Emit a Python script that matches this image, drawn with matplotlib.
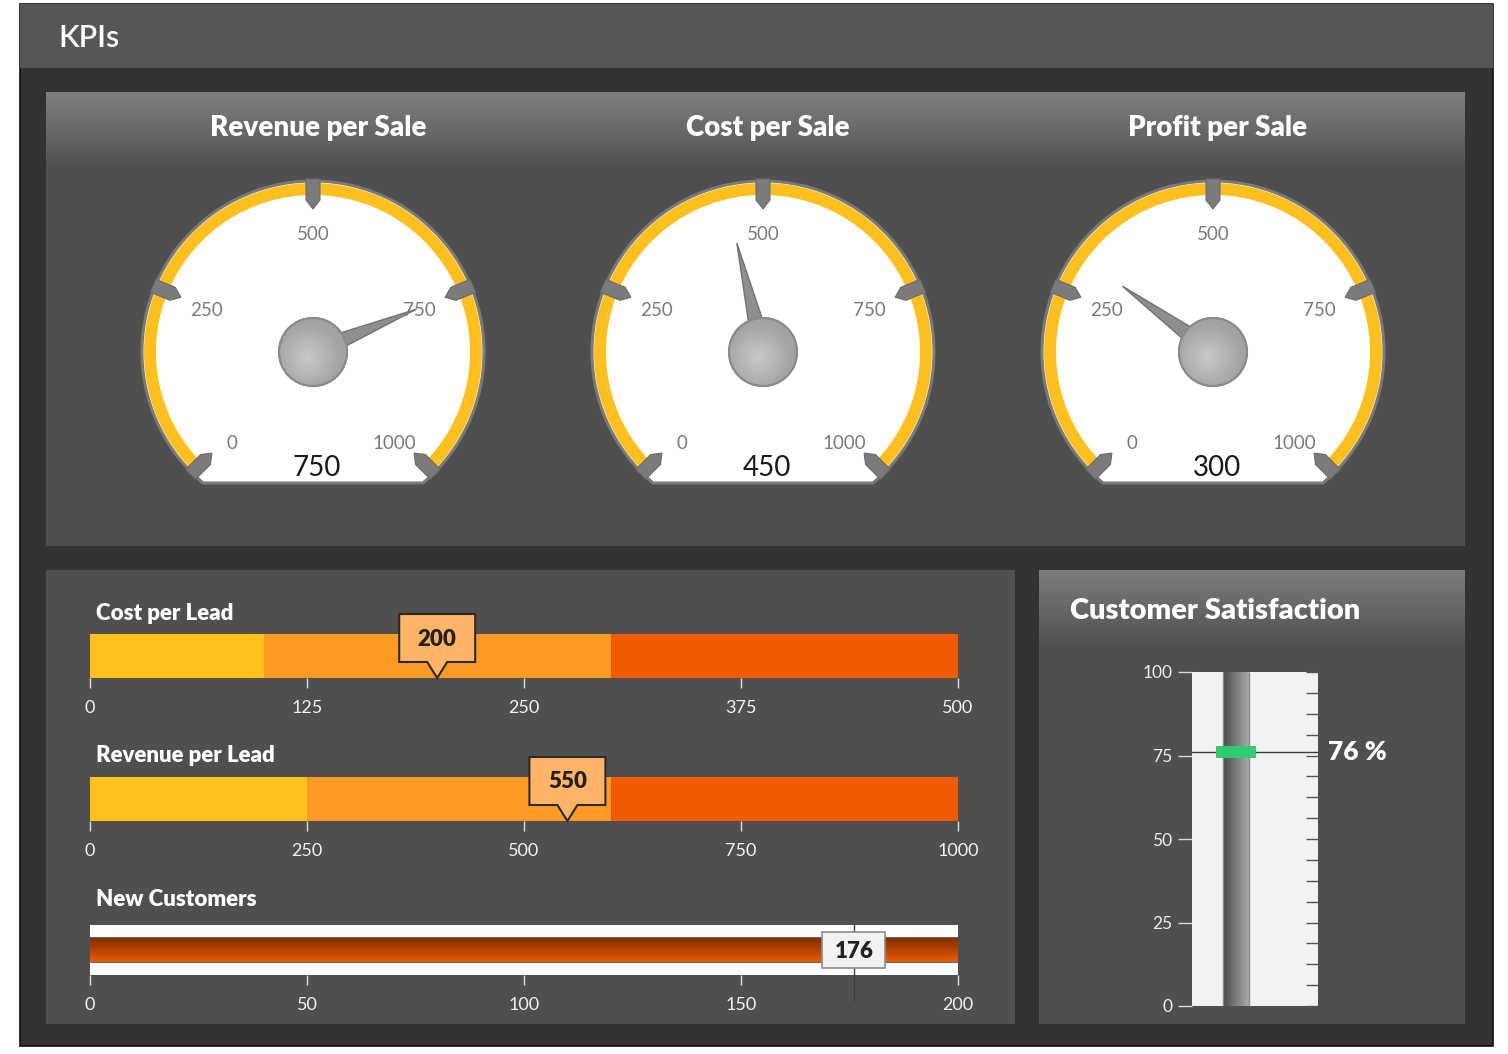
import numpy as np
import matplotlib.pyplot as plt
import matplotlib.transforms as mtransforms
from matplotlib.patches import Polygon, Rectangle, Circle
from matplotlib.colors import to_rgb

# ---- data -------------------------------------------------------------
gauge_titles = ["Revenue per Sale", "Cost per Sale", "Profit per Sale"]
gauge_values = [750, 450, 300]
gauge_ticks = [0, 250, 500, 750, 1000]
gauge_max = 1000

bullet_titles = ["Cost per Lead", "Revenue per Lead"]
bullet_values = [200, 550]
bullet_max = [500, 1000]
bullet_bands = [[100, 300, 500], [250, 600, 1000]]
bullet_ticks = [[0, 125, 250, 375, 500], [0, 250, 500, 750, 1000]]
band_colors = ["#FFC21C", "#FF9A24", "#F05A00"]

nc_title = "New Customers"
nc_value = 176
nc_max = 200
nc_ticks = [0, 50, 100, 150, 200]

sat_title = "Customer Satisfaction"
sat_value = 76
sat_ticks = [0, 25, 50, 75, 100]
sat_minor = np.arange(0, 100.1, 6.25)

W, H = 1508, 1054
plt.rcParams["font.family"] = ["Lato", "DejaVu Sans"]
TITLE_W = "heavy"


def vgrad(c_top, c_bot, n=64):
    a, b = np.array(to_rgb(c_top)), np.array(to_rgb(c_bot))
    t = np.linspace(0, 1, n)[:, None, None]
    return a * (1 - t) + b * t


def hgrad(c_left, c_right, n=64):
    return vgrad(c_left, c_right, n).transpose(1, 0, 2)


fig = plt.figure(figsize=(W / 100, H / 100), dpi=100, facecolor="white")
bg = fig.add_axes([0, 0, 1, 1])
bg.axis("off")


def px_axes(x0, y0, x1, y1):
    return fig.add_axes([x0 / W, 1 - y1 / H, (x1 - x0) / W, (y1 - y0) / H])


def rect(x0, y0, x1, y1, **kw):
    bg.add_patch(Rectangle((x0, y0), x1 - x0, y1 - y0, **kw))


# ---- frame and panels -------------------------------------------------
rect(20, 4, 1493, 1046, fc="#333333", ec="#111111", lw=1.2)
rect(20, 4, 1493, 68, fc="#565656", ec="none")
bg.text(58, 38, "KPIs", color="white", fontsize=22, fontweight="semibold",
        va="center", ha="left")

rect(46, 92, 1465, 546, fc="#4f4f4f", ec="none")
bg.imshow(vgrad("#808080", "#4f4f4f"), extent=(46, 1465, 170, 92),
          aspect="auto", interpolation="bilinear", zorder=1.5)
rect(46, 570, 1015, 1024, fc="#4f4f4f", ec="none")
rect(1039, 570, 1465, 1024, fc="#4f4f4f", ec="none")
bg.imshow(vgrad("#7c7c7c", "#4f4f4f"), extent=(1039, 1465, 650, 570),
          aspect="auto", interpolation="bilinear", zorder=1.5)
bg.set_xlim(0, W)
bg.set_ylim(H, 0)

# ---- gauges -----------------------------------------------------------
R = 171
gauge_cx = [313, 763, 1213]
gauge_cy = 352


def ang(v):
    return np.radians(225 - 270 * v / gauge_max)


for cx, title, value in zip(gauge_cx, gauge_titles, gauge_values):
    bg.text(cx + 5, 128, title, color="white", fontsize=20, fontweight=TITLE_W,
            ha="center", va="center", zorder=3)
    ax = px_axes(cx - 185, gauge_cy - 185, cx + 185, gauge_cy + 185)
    ax.axis("off")

    th = np.radians(np.linspace(-50, 230, 300))
    ax.add_patch(Polygon(np.column_stack([R * np.cos(th), R * np.sin(th)]),
                         closed=True, fc="white", ec="#7a7a7a", lw=2.2))
    th = np.radians(np.linspace(-47, 227, 300))
    band = np.vstack([np.column_stack([169 * np.cos(th), 169 * np.sin(th)]),
                      np.column_stack([157 * np.cos(th[::-1]), 157 * np.sin(th[::-1])])])
    ax.add_patch(Polygon(band, closed=True, fc="#FFC01E", ec="none"))

    for t in gauge_ticks:
        a = ang(t)
        u = np.array([np.cos(a), np.sin(a)])
        p = np.array([-np.sin(a), np.cos(a)])
        pts = [u * 173 + p * 7, u * 152 + p * 7, u * 143, u * 152 - p * 7, u * 173 - p * 7]
        ax.add_patch(Polygon(pts, closed=True, fc="#7b7b7b", ec="#6a6a6a", lw=0.8))
        ax.text(120 * u[0] * 0.96, 122 * u[1] - 5, str(t), color="#7a7a7a",
                fontsize=13.5, ha="center", va="center")

    a = ang(value)
    u = np.array([np.cos(a), np.sin(a)])
    p = np.array([-np.sin(a), np.cos(a)])
    ax.add_patch(Polygon([u * 112, p * 10, -p * 10], closed=True,
                         fc="#8f8f8f", ec="#727272", lw=1, zorder=3))
    hub = Circle((0, 0), 34, fc="#b5b5b5", ec="#8a8a8a", lw=1.5, zorder=4)
    ax.add_patch(hub)
    yy, xx = np.mgrid[-1:1:80j, -1:1:80j]
    rr = np.clip(np.hypot(xx + 0.15, yy - 0.15), 0, 1)[..., None]
    img = np.array(to_rgb("#c9c9c9")) * (1 - rr) + np.array(to_rgb("#a3a3a3")) * rr
    im = ax.imshow(img, extent=(-34, 34, -34, 34), zorder=4.5, interpolation="bilinear")
    im.set_clip_path(hub)
    ax.add_patch(Circle((0, 0), 34, fc="none", ec="#8a8a8a", lw=1.5, zorder=5))
    ax.text(4, -116, str(value), color="#1a1a1a", fontsize=20, ha="center", va="center")
    ax.set_xlim(-185, 185)
    ax.set_ylim(-185, 185)


# ---- bullet bars ------------------------------------------------------
def style_xticks(ax, ticks):
    ax.set_xticks(ticks)
    ax.set_yticks([])
    for s in ax.spines.values():
        s.set_visible(False)
    ax.tick_params(axis="x", length=7, width=1, color="#dedede",
                   labelcolor="#f2f2f2", labelsize=13, pad=9)


def callout(ax, x, y, verts, label, fc, ec, lw):
    tr = fig.dpi_scale_trans + mtransforms.ScaledTranslation(x, y, ax.transData)
    ax.add_patch(Polygon(verts, closed=True, fc=fc, ec=ec, lw=lw,
                         transform=tr, clip_on=False, zorder=5))
    cy = (max(v[1] for v in verts[:3]) + min(v[1] for v in verts[:3])) / 2
    ax.text(0, cy - 0.01, label, transform=tr, ha="center", va="center", fontsize=16,
            fontweight=TITLE_W, color="#222222", zorder=6)


bullet_y = [634, 777]
for y0, title, value, vmax, bands, ticks in zip(bullet_y, bullet_titles, bullet_values,
                                                 bullet_max, bullet_bands, bullet_ticks):
    bg.text(96, y0 - 21, title, color="white", fontsize=16, fontweight=TITLE_W,
            ha="left", va="center")
    ax = px_axes(90, y0, 958, y0 + 44)
    ax.set_facecolor("none")
    lefts = [0] + bands[:-1]
    ax.barh(0.5, np.diff([0] + bands), left=lefts, height=1, color=band_colors)
    ax.set_xlim(0, vmax)
    ax.set_ylim(0, 1)
    style_xticks(ax, ticks)
    verts = [(-0.38, 0.20), (0.38, 0.20), (0.38, -0.28), (0.10, -0.28),
             (0, -0.44), (-0.10, -0.28), (-0.38, -0.28)]
    callout(ax, value, 1.0, verts, str(value), "#FFB466", "#2a2a2a", 1.5)

# new customers
bg.text(96, 899, nc_title, color="white", fontsize=16, fontweight=TITLE_W,
        ha="left", va="center")
ax = px_axes(90, 925, 958, 975)
ax.set_facecolor("white")
ax.imshow(vgrad("#7d2c00", "#ea5c00"), extent=(0, nc_max, 0.26, 0.76),
          aspect="auto", interpolation="bilinear")
ax.hlines([0.26, 0.76], 0, nc_max, color="#6a6a6a", lw=0.8)
ax.set_xlim(0, nc_max)
ax.set_ylim(0, 1)
style_xticks(ax, nc_ticks)
ax.plot([nc_value, nc_value], [-0.5, 1], color="#3c3c3c", lw=1, clip_on=False, zorder=4)
box = [(-0.315, 0.18), (0.315, 0.18), (0.315, -0.18), (-0.315, -0.18)]
callout(ax, nc_value, 0.5, box, str(nc_value), "#f1f1f1", "#8c8c8c", 1.2)

# ---- customer satisfaction -------------------------------------------
bg.text(1215, 611, sat_title, color="white", fontsize=21, fontweight=TITLE_W,
        ha="center", va="center", zorder=3)
ax = px_axes(1192, 672, 1318, 1006)
ax.set_facecolor("#f2f2f2")
ax.imshow(hgrad("#4a4a4a", "#ababab"), extent=(0.246, 0.452, 0, 100),
          aspect="auto", interpolation="bilinear")
ax.vlines([0.246, 0.452], 0, 100, color="#8a8a8a", lw=1)
ax.axhline(sat_value, color="#3c3c3c", lw=1, zorder=3)
ax.add_patch(Rectangle((0.19, sat_value - 1.8), 0.318, 3.6, fc="#2ECC71",
                       ec="none", zorder=4))
ax.text(1.08, sat_value, f"{sat_value} %", color="white", fontsize=19,
        fontweight=TITLE_W, ha="left", va="center")
ax.set_xlim(0, 1)
ax.set_ylim(0, 100)
ax.set_xticks([])
ax.set_yticks(sat_ticks)
for s in ax.spines.values():
    s.set_visible(False)
ax.tick_params(axis="y", length=10, width=1, color="#d8d8d8",
               labelcolor="#ececec", labelsize=12.5, pad=4)
ax2 = ax.twinx()
ax2.set_ylim(0, 100)
ax2.set_yticks(sat_minor)
ax2.set_yticklabels([])
for s in ax2.spines.values():
    s.set_visible(False)
ax2.tick_params(axis="y", direction="in", length=9, width=1, color="#555555")

fig.savefig("out.png", dpi=100, facecolor=fig.get_facecolor())
